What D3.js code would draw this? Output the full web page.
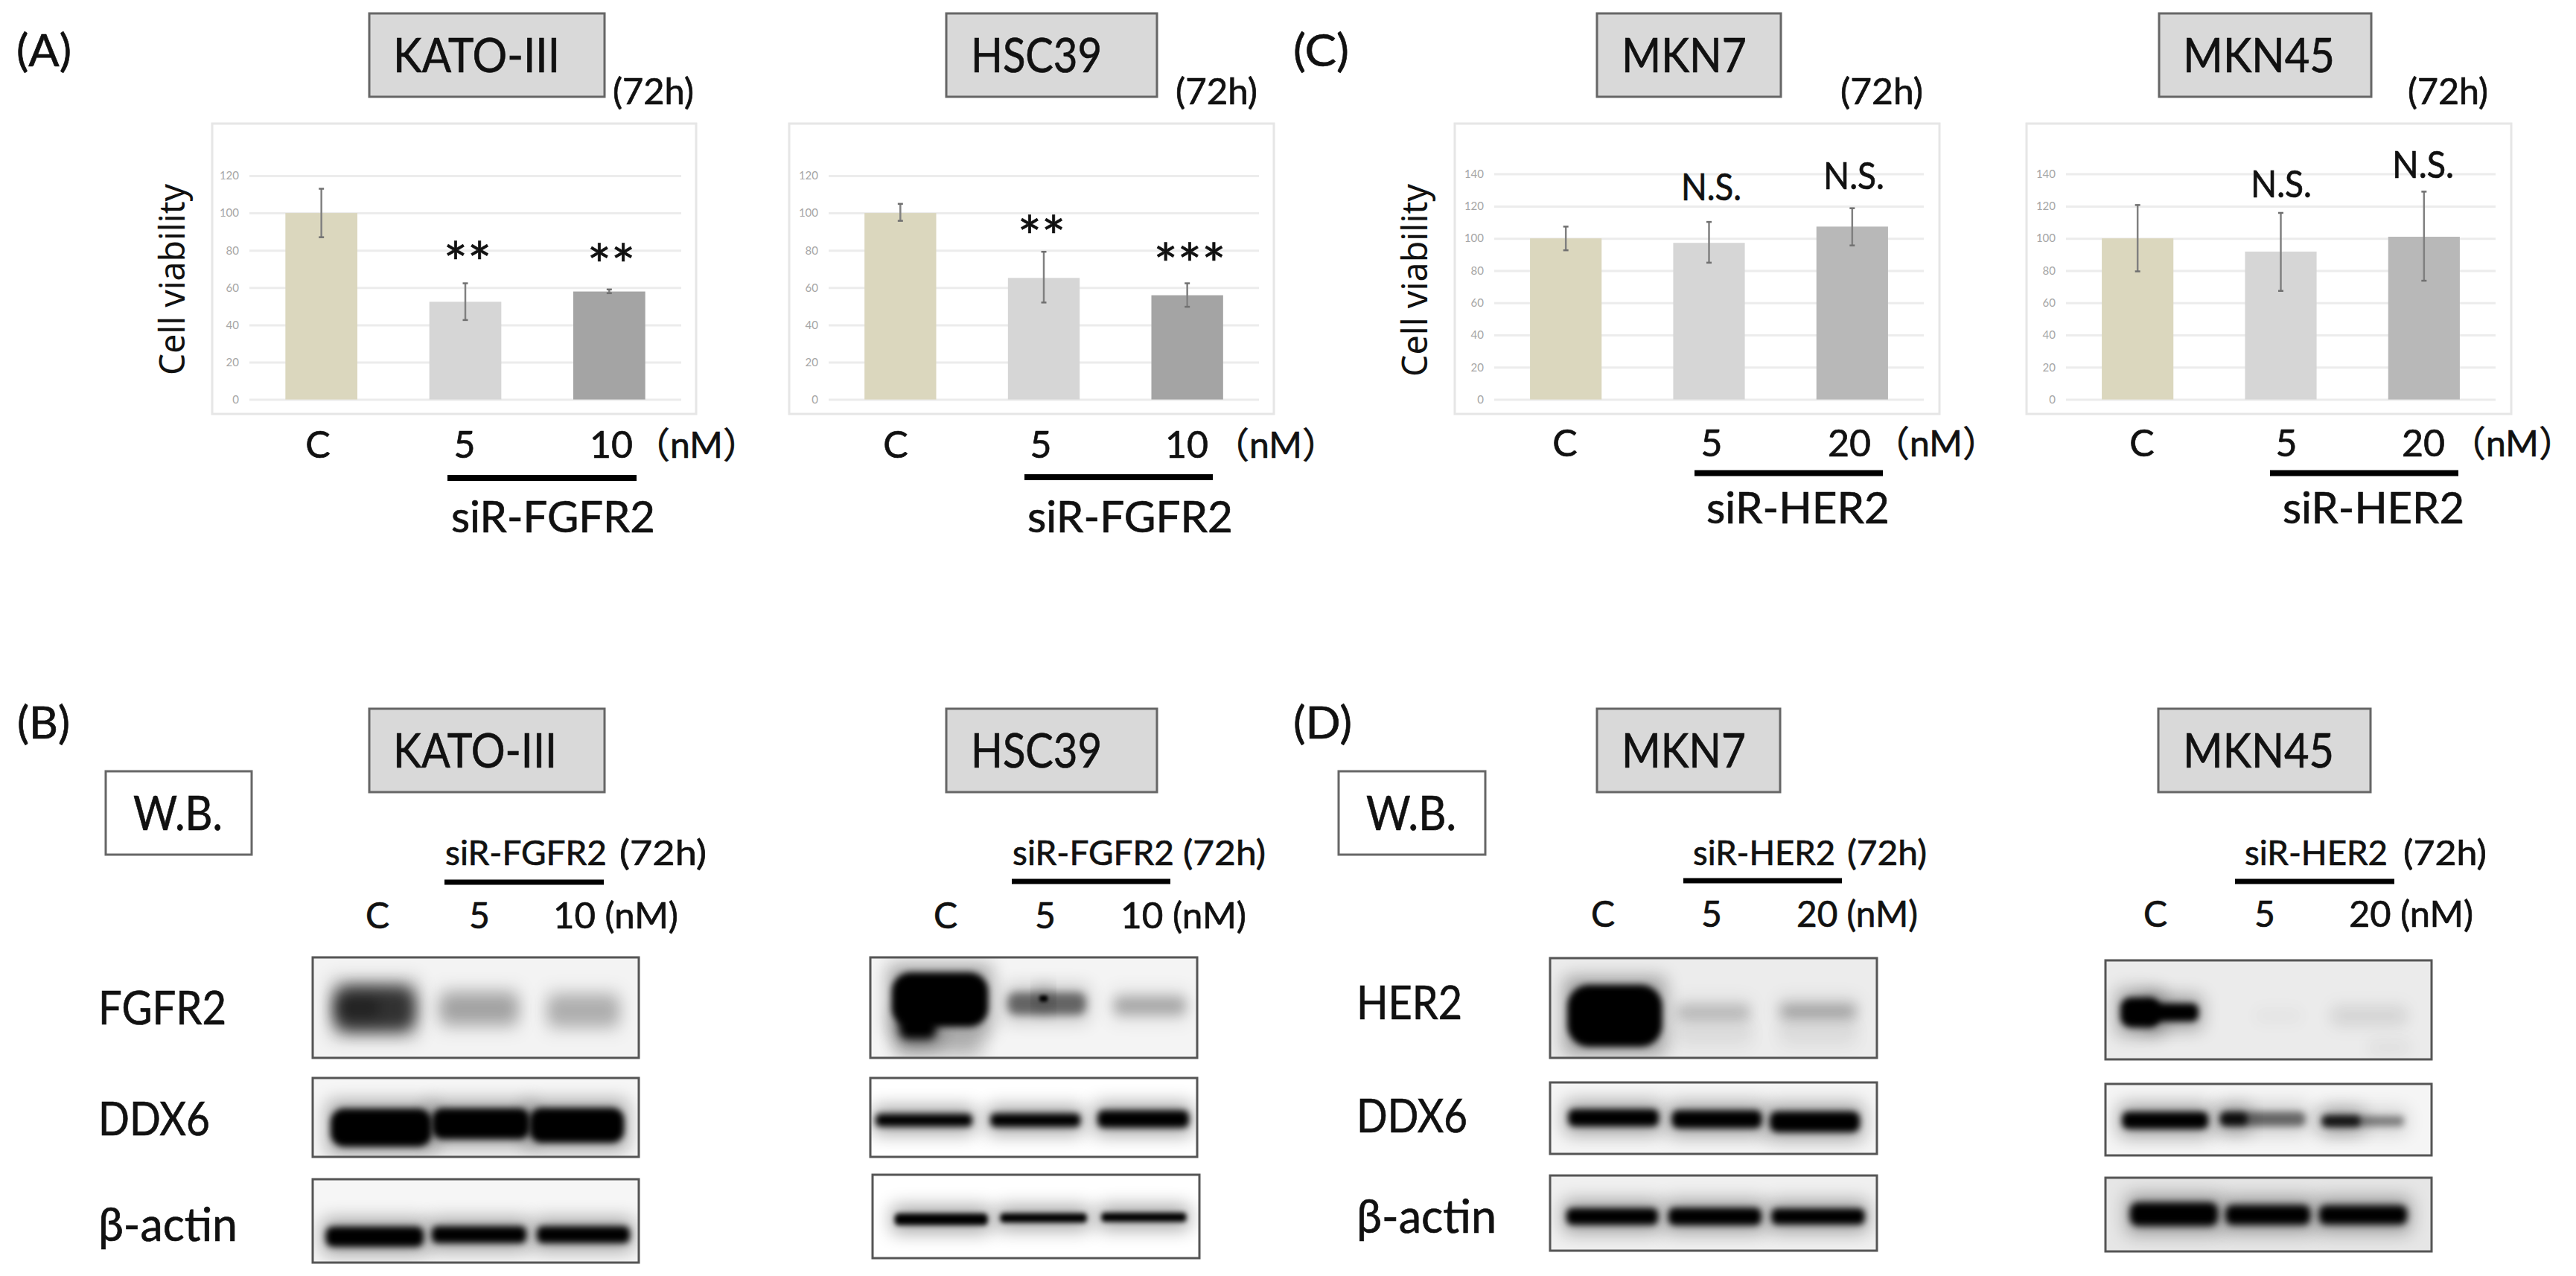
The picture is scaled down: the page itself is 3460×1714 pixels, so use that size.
<!DOCTYPE html>
<html>
<head>
<meta charset="utf-8">
<script src="https://cdn.jsdelivr.net/npm/d3@7"></script>
<style>
  html, body { margin: 0; padding: 0; background: #fff; }
  text { font-family: Lato, "Noto Sans CJK JP", sans-serif; fill: #111; }
  .heavy { stroke: #111; stroke-width: 0.7; }
</style>
</head>
<body>
<div id="figure"></div>
<script>
// Cell viability values
var fgfr2Doses = ["C", "5", "10"];
var her2Doses = ["C", "5", "20"];
var ticks120 = [0, 20, 40, 60, 80, 100, 120];
var ticks140 = [0, 20, 40, 60, 80, 100, 120, 140];

var katoValues = [100, 52.4, 57.9];
var katoUpper = [113, 62.3, 59];
var katoLower = [87, 42.6, 57];

var hscValues = [100, 65.2, 55.9];
var hscUpper = [104.9, 79.2, 62.3];
var hscLower = [95.8, 52, 49.7];

var mkn7Values = [100, 97.2, 107.3];
var mkn7Upper = [107.3, 110.2, 118.7];
var mkn7Lower = [92.6, 84.9, 95.6];

var mkn45Values = [100, 91.8, 101];
var mkn45Upper = [120.7, 115.8, 129];
var mkn45Lower = [79.5, 67.4, 73.7];

// Band darkness per lane (0 = nothing, 1 = black)
var katoFgfr2 = [0.72, 0.26, 0.22];
var katoDdx6 = [1, 1, 1];
var katoActin = [1, 1, 1];
var hscFgfr2 = [1, 0.5, 0.24];
var hscDdx6 = [1, 1, 1];
var hscActin = [1, 1, 1];
var mkn7Her2 = [1, 0.17, 0.24];
var mkn7Ddx6 = [1, 1, 1];
var mkn7Actin = [1, 1, 1];
var mkn45Her2 = [1, 0.02, 0.08];
var mkn45Ddx6 = [1, 0.5, 0.42];
var mkn45Actin = [1, 1, 1];

var svg = d3.select("#figure").append("svg")
    .attr("width", 3460)
    .attr("height", 1714);

var defs = svg.append("defs");
[2, 3, 4, 5, 6, 8, 10, 12, 16].forEach(function (s) {
    defs.append("filter")
        .attr("id", "blur" + s)
        .attr("x", "-40%").attr("y", "-150%")
        .attr("width", "180%").attr("height", "400%")
        .append("feGaussianBlur").attr("stdDeviation", s);
});

// text from measured left/right ink edges
function label(x0, x1, y, size, str) {
    var t = svg.append("text")
        .attr("class", "heavy")
        .attr("x", x0)
        .attr("y", y)
        .attr("font-size", size)
        .text(str);
    if (x1) {
        t.attr("textLength", x1 - x0).attr("lengthAdjust", "spacingAndGlyphs");
    }
    return t;
}

function boxTitle(x0, y0, x1, y1, tx0, tx1, base, str) {
    svg.append("rect")
        .attr("x", x0).attr("y", y0)
        .attr("width", x1 - x0).attr("height", y1 - y0)
        .attr("fill", str === "W.B." ? "#fff" : "#d9d9d9")
        .attr("stroke", "#666")
        .attr("stroke-width", 3);
    label(tx0, tx1, base, 64, str);
}

function hbar(x0, x1, y, thick) {
    svg.append("line")
        .attr("x1", x0).attr("x2", x1)
        .attr("y1", y).attr("y2", y)
        .attr("stroke", "#000")
        .attr("stroke-width", thick);
}

// Bar charts
var tan = "#dbd7be", light = "#d6d6d6";

var charts = [
    { doses: fgfr2Doses, values: katoValues, upper: katoUpper, lower: katoLower, ticks: ticks120, top: 236,
      colors: [tan, light, "#a4a4a4"], frame: [285, 166, 935, 556], plot: [335, 915] },
    { doses: fgfr2Doses, values: hscValues, upper: hscUpper, lower: hscLower, ticks: ticks120, top: 236,
      colors: [tan, light, "#a4a4a4"], frame: [1060, 166, 1711, 556], plot: [1113, 1691] },
    { doses: her2Doses, values: mkn7Values, upper: mkn7Upper, lower: mkn7Lower, ticks: ticks140, top: 233.6,
      colors: [tan, light, "#b8b8b8"], frame: [1954, 166, 2605, 556], plot: [2007, 2584] },
    { doses: her2Doses, values: mkn45Values, upper: mkn45Upper, lower: mkn45Lower, ticks: ticks140, top: 233.6,
      colors: [tan, light, "#b8b8b8"], frame: [2722, 166, 3373, 556], plot: [2775, 3352] }
];

charts.forEach(function (c) {
    var g = svg.append("g");

    g.append("rect")
        .attr("x", c.frame[0]).attr("y", c.frame[1])
        .attr("width", c.frame[2] - c.frame[0]).attr("height", c.frame[3] - c.frame[1])
        .attr("fill", "#fff")
        .attr("stroke", "#e6e6e6")
        .attr("stroke-width", 3);

    var x = d3.scaleBand()
        .domain(c.doses)
        .range(c.plot)
        .paddingInner(0.5)
        .paddingOuter(0.25);

    var y = d3.scaleLinear()
        .domain([0, d3.max(c.ticks)])
        .range([536.6, c.top]);

    var leftAxis = d3.axisLeft(y)
        .tickValues(c.ticks)
        .tickSize(-(c.plot[1] - c.plot[0]))
        .tickPadding(14);

    var ax = g.append("g")
        .attr("transform", "translate(" + c.plot[0] + ",0)")
        .call(leftAxis);
    ax.select(".domain").remove();
    ax.selectAll("line").attr("stroke", "#ececec").attr("stroke-width", 3);
    ax.selectAll("text")
        .attr("font-size", 15)
        .style("fill", "#a6a6a6");

    g.selectAll(".bar")
        .data(c.doses)
        .enter()
        .append("rect")
        .attr("class", "bar")
        .attr("x", function (d) { return x(d); })
        .attr("width", x.bandwidth())
        .attr("y", function (d, i) { return y(c.values[i]); })
        .attr("height", function (d, i) { return y(0) - y(c.values[i]); })
        .attr("fill", function (d, i) { return c.colors[i]; });

    // error bars
    var mid = function (d) { return x(d) + x.bandwidth() / 2; };
    g.selectAll(".err")
        .data(c.doses)
        .enter()
        .append("line")
        .attr("class", "err")
        .attr("x1", mid).attr("x2", mid)
        .attr("y1", function (d, i) { return y(c.upper[i]); })
        .attr("y2", function (d, i) { return y(c.lower[i]); })
        .attr("stroke", "#808080")
        .attr("stroke-width", 2.5);

    [c.upper, c.lower].forEach(function (ends) {
        g.selectAll(null)
            .data(c.doses)
            .enter()
            .append("line")
            .attr("x1", function (d) { return mid(d) - 3.5; })
            .attr("x2", function (d) { return mid(d) + 3.5; })
            .attr("y1", function (d, i) { return y(ends[i]); })
            .attr("y2", function (d, i) { return y(ends[i]); })
            .attr("stroke", "#707070")
            .attr("stroke-width", 2.5);
    });
});

// Top row text
label(22, 96, 89, 60, "(A)");
label(1737, 1812, 89, 60, "(C)");
label(23, 94, 992, 60, "(B)");
label(1737, 1816, 992, 60, "(D)");

boxTitle(496, 18, 812, 130, 528, 752, 97, "KATO-III");
boxTitle(1271, 18, 1554, 130, 1304, 1480, 97, "HSC39");
boxTitle(2145, 18, 2392, 130, 2178, 2346, 97, "MKN7");
boxTitle(2900, 18, 3185, 130, 2932, 3136, 97, "MKN45");

label(823, 932, 140, 48, "(72h)");
label(1579, 1689, 140, 48, "(72h)");
label(2472, 2583, 140, 48, "(72h)");
label(3234, 3342, 140, 48, "(72h)");

[[248, 247, 504], [1917, 247, 506]].forEach(function (a) {
    svg.append("text")
        .attr("transform", "translate(" + a[0] + "," + a[2] + ") rotate(-90)")
        .attr("font-size", 48)
        .style("font-family", "'Noto Sans'")
        .attr("textLength", a[2] - a[1])
        .attr("lengthAdjust", "spacingAndGlyphs")
        .text("Cell viability");
});

var stars = [[628, 341, "**"], [821, 344, "**"], [1399, 306, "**"], [1598, 343, "***"]];
stars.forEach(function (s) {
    svg.append("text")
        .attr("class", "heavy")
        .attr("x", s[0])
        .attr("y", s[1] + 40)
        .attr("text-anchor", "middle")
        .attr("font-size", 76)
        .text(s[2]);
});

label(2258, 2339, 269, 50, "N.S.");
label(2449, 2531, 254, 50, "N.S.");
label(3023, 3105, 265, 50, "N.S.");
label(3213, 3296, 239, 50, "N.S.");

// x labels under the bar charts
var doseRows = [
    [[427, "C"], [624, "5"], [821, "10"], 615],
    [[1203, "C"], [1398, "5"], [1594, "10"], 615],
    [[2102, "C"], [2299, "5"], [2484, "20"], 613],
    [[2877, "C"], [3071, "5"], [3255, "20"], 613]
];
doseRows.forEach(function (r) {
    r.slice(0, 3).forEach(function (d) {
        svg.append("text")
            .attr("class", "heavy")
            .attr("x", d[0]).attr("y", r[3])
            .attr("text-anchor", "middle")
            .attr("font-size", 50)
            .text(d[1]);
    });
});

label(852, null, 615, 48, "（nM）");
label(1630, null, 615, 48, "（nM）");
label(2517, null, 613, 48, "（nM）");
label(3291, null, 613, 48, "（nM）");

hbar(601, 855, 642, 8);
hbar(1376, 1629, 641, 8);
hbar(2276, 2529, 635.5, 8);
hbar(3049, 3302, 635.5, 8);

label(606, 880, 715, 58, "siR-FGFR2");
label(1380, 1656, 715, 58, "siR-FGFR2");
label(2292, 2538, 703, 58, "siR-HER2");
label(3066, 3310, 703, 58, "siR-HER2");

// Bottom row text
boxTitle(496, 952, 812, 1064, 528, 748, 1031, "KATO-III");
boxTitle(1271, 952, 1554, 1064, 1304, 1480, 1031, "HSC39");
boxTitle(2145, 952, 2391, 1064, 2178, 2345, 1031, "MKN7");
boxTitle(2899, 952, 3184, 1064, 2932, 3135, 1031, "MKN45");

boxTitle(142, 1036, 338, 1148, 179, 299, 1115, "W.B.");
boxTitle(1798, 1036, 1995, 1148, 1835, 1956, 1115, "W.B.");

label(598, 815, 1162, 46, "siR-FGFR2");
label(832, 949, 1162, 46, "(72h)");
label(1360, 1577, 1162, 46, "siR-FGFR2");
label(1589, 1700, 1162, 46, "(72h)");
label(2274, 2465, 1162, 46, "siR-HER2");
label(2481, 2588, 1162, 46, "(72h)");
label(3015, 3207, 1162, 46, "siR-HER2");
label(3228, 3340, 1162, 46, "(72h)");

hbar(597, 811, 1185, 7);
hbar(1359, 1572, 1184, 7);
hbar(2261, 2474, 1183, 7);
hbar(3002, 3216, 1184, 7);

[[507, "C"], [644, "5"], [1270, "C"], [1404, "5"], [2153, "C"], [2299, "5"], [2895, "C"], [3042, "5"]].forEach(function (d) {
    svg.append("text")
        .attr("class", "heavy")
        .attr("x", d[0])
        .attr("y", d[0] < 1700 ? 1247 : 1245)
        .attr("text-anchor", "middle")
        .attr("font-size", 48)
        .text(d[1]);
});
label(743, 911, 1247, 48, "10 (nM)");
label(1505, 1674, 1247, 48, "10 (nM)");
label(2413, 2576, 1245, 48, "20 (nM)");
label(3155, 3322, 1245, 48, "20 (nM)");

label(132, 304, 1376, 62, "FGFR2");
label(132, 282, 1525, 62, "DDX6");
label(132, 319, 1667, 62, "β-actin");
label(1822, 1964, 1369, 62, "HER2");
label(1822, 1971, 1521, 62, "DDX6");
label(1822, 2010, 1656, 62, "β-actin");

// Western blot panels. Band shapes are in percent of the panel:
// [lane index, centre x, centre y, width, height, core blur, own density]
var blots = [
    { frame: [420, 1286, 858, 1421], bg: "#f3f3f3", density: katoFgfr2, bands: [
        [0, 19, 51, 25, 44, 10], [0, 14, 50, 12, 16, 8, 0.25], [1, 51, 51, 24, 30, 10], [2, 83, 53, 22, 30, 10]] },
    { frame: [420, 1448, 858, 1554], bg: "#f6f6f6", density: katoDdx6, bands: [
        [0, 21, 63, 31, 48, 4], [1, 51.6, 58, 30, 39, 4], [2, 81, 60, 29, 44, 4]] },
    { frame: [420, 1584, 858, 1696], bg: "#f6f6f6", density: katoActin, bands: [
        [0, 19, 69, 30, 24, 4], [1, 51, 66.5, 29, 20, 4], [2, 83, 66.5, 28.5, 20, 4]] },

    { frame: [1169, 1286, 1608, 1421], bg: "#f4f4f4", density: hscFgfr2, bands: [
        [0, 21.3, 42, 29.5, 54, 4], [0, 14.5, 70, 11, 22, 6], [0, 21, 86, 26, 18, 12, 0.22],
        [1, 54, 46, 24, 22, 6], [1, 53, 41, 2.5, 6, 2, 1], [2, 85.5, 48, 22, 18, 8]] },
    { frame: [1169, 1448, 1608, 1554], bg: "#ffffff", density: hscDdx6, bands: [
        [0, 16.4, 53.5, 29.5, 16, 4], [1, 50.5, 53.5, 27.5, 17, 4], [2, 83.5, 52, 28, 22, 4]] },
    { frame: [1172, 1578, 1611, 1690], bg: "#ffffff", density: hscActin, bands: [
        [0, 21, 53.5, 28.5, 14, 3], [1, 52.3, 51.8, 26.5, 11, 3], [2, 83, 51, 26, 11, 3]] },

    { frame: [2082, 1287, 2521, 1421], bg: "#ececec", density: mkn7Her2, bands: [
        [0, 19.8, 57.8, 29, 62, 4], [1, 50, 54, 22, 14, 8], [1, 50, 76, 24, 20, 12, 0.05],
        [2, 82, 53, 23, 14, 8], [2, 82, 76, 24, 20, 12, 0.05]] },
    { frame: [2082, 1454, 2521, 1550], bg: "#f5f5f5", density: mkn7Ddx6, bands: [
        [0, 19.4, 49.5, 27.7, 24, 4], [1, 51, 51.5, 27.5, 25, 4], [2, 81, 55, 27.5, 29, 4]] },
    { frame: [2082, 1579, 2521, 1680], bg: "#f0f0f0", density: mkn7Actin, bands: [
        [0, 19, 54.5, 28, 22, 4], [1, 50.4, 54.5, 28.4, 23, 4], [2, 82, 54.5, 28.5, 21, 4]] },

    { frame: [2828, 1290, 3266, 1423], bg: "#ebebeb", density: mkn45Her2, bands: [
        [0, 10.6, 52.6, 12, 30, 4], [0, 20.5, 52.6, 16, 18, 4], [1, 53, 56, 15, 12, 10],
        [2, 80.8, 56, 23, 15, 10], [2, 87, 88, 13, 10, 10, 0.04]] },
    { frame: [2828, 1456, 3266, 1552], bg: "#f5f5f5", density: mkn45Ddx6, bands: [
        [0, 18.3, 51, 26.4, 24, 4], [1, 39.4, 49, 8, 16, 4, 0.85], [1, 48.3, 49, 26, 20, 5],
        [2, 72.3, 52, 11.5, 15, 4, 0.8], [2, 79, 52, 25, 14, 5]] },
    { frame: [2828, 1582, 3266, 1681], bg: "#e6e6e6", density: mkn45Actin, bands: [
        [0, 21, 49.5, 27, 32, 5], [1, 49.8, 50.5, 26, 27, 5], [2, 79, 50.5, 27, 26, 5]] }
];

blots.forEach(function (b, i) {
    var fx = d3.scaleLinear().domain([0, 100]).range([b.frame[0], b.frame[2]]);
    var fy = d3.scaleLinear().domain([0, 100]).range([b.frame[1], b.frame[3]]);
    var w = function (p) { return fx(p) - fx(0); };
    var h = function (p) { return fy(p) - fy(0); };
    var dens = function (d) { return d[6] !== undefined ? d[6] : b.density[d[0]]; };

    defs.append("clipPath")
        .attr("id", "blot" + i)
        .append("rect")
        .attr("x", b.frame[0]).attr("y", b.frame[1])
        .attr("width", b.frame[2] - b.frame[0]).attr("height", b.frame[3] - b.frame[1]);

    var g = svg.append("g").attr("clip-path", "url(#blot" + i + ")");

    g.append("rect")
        .attr("x", b.frame[0]).attr("y", b.frame[1])
        .attr("width", b.frame[2] - b.frame[0]).attr("height", b.frame[3] - b.frame[1])
        .attr("fill", b.bg);

    // soft halo under each band
    g.selectAll(".halo")
        .data(b.bands)
        .enter()
        .append("rect")
        .attr("class", "halo")
        .attr("x", function (d) { return fx(d[1] - d[3] / 2) - 4; })
        .attr("y", function (d) { return fy(d[2] - d[4] / 2) - 10; })
        .attr("width", function (d) { return w(d[3]) + 8; })
        .attr("height", function (d) { return h(d[4]) + 20; })
        .attr("fill", "#000")
        .attr("opacity", function (d) { return dens(d) * 0.35; })
        .attr("filter", "url(#blur12)");

    g.selectAll(".band")
        .data(b.bands)
        .enter()
        .append("rect")
        .attr("class", "band")
        .attr("x", function (d) { return fx(d[1] - d[3] / 2); })
        .attr("y", function (d) { return fy(d[2] - d[4] / 2); })
        .attr("width", function (d) { return w(d[3]); })
        .attr("height", function (d) { return h(d[4]); })
        .attr("rx", function (d) { return h(d[4]) * 0.35; })
        .attr("fill", "#000")
        .attr("opacity", dens)
        .attr("filter", function (d) { return "url(#blur" + d[5] + ")"; });

    svg.append("rect")
        .attr("x", b.frame[0]).attr("y", b.frame[1])
        .attr("width", b.frame[2] - b.frame[0]).attr("height", b.frame[3] - b.frame[1])
        .attr("fill", "none")
        .attr("stroke", "#555")
        .attr("stroke-width", 3);
});
</script>
</body>
</html>
